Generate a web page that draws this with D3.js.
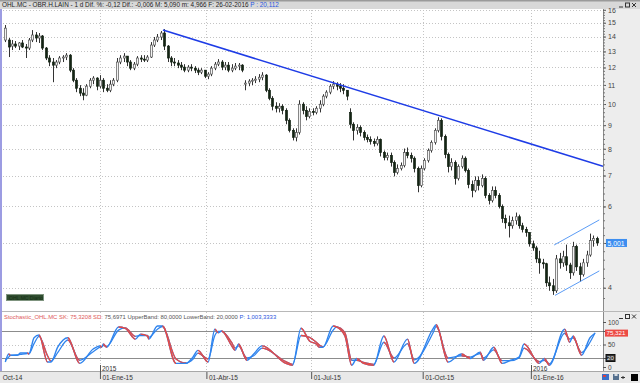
<!DOCTYPE html>
<html>
<head>
<meta charset="utf-8">
<script src="https://cdn.jsdelivr.net/npm/d3@7"></script>
<style>
  body { margin: 0; background: #fff; }
  svg { display: block; font-family: "Liberation Sans", Arial, sans-serif; }
</style>
</head>
<body>
<svg id="chart" width="640" height="383"></svg>
<script>
// trading-day index of the first candle, each candle covers 2 sessions
var firstDay = 8, dayStep = 2;

var opens = [13.76,13.76,13.35,13.49,13.35,13.56,13.29,13.22,13.76,14.11,
  13.90,14.04,13.22,12.58,12.33,12.14,12.33,12.58,12.64,12.76,
  11.84,11.26,10.82,10.56,10.45,10.93,11.26,11.38,10.93,11.26,
  10.82,10.71,11.04,11.26,12.33,12.58,12.70,12.33,11.96,12.20,
  12.58,12.51,12.45,12.64,13.42,13.76,13.97,14.25,13.35,12.58,
  12.33,12.27,12.14,12.02,11.84,12.02,11.96,11.84,11.72,11.84,
  11.49,11.61,11.96,12.20,12.33,12.02,12.14,11.84,11.96,12.08,
  12.14,11.04,11.10,11.21,11.26,11.32,11.43,11.55,10.71,10.29,
  9.89,9.79,9.89,9.69,9.22,8.77,8.47,8.68,9.99,9.69,
  9.40,9.64,9.59,9.79,9.99,10.40,10.61,10.93,11.04,10.93,
  10.82,10.71,9.59,9.04,8.77,8.90,8.68,8.47,8.38,8.30,
  8.21,8.38,7.85,7.66,7.74,7.47,7.11,7.25,7.36,7.85,
  7.74,7.63,7.25,6.66,7.25,7.55,7.93,8.26,8.77,9.22,
  8.51,7.78,7.32,7.47,6.90,7.32,7.63,7.18,6.69,6.50,
  6.83,6.66,6.90,6.34,6.18,6.50,6.34,6.00,5.65,5.53,
  5.45,5.59,5.70,5.45,5.35,5.27,4.98,4.88,4.62,4.53,
  4.51,4.10,4.04,3.94,4.62,4.53,4.67,4.48,4.31,4.91,
  4.44,4.27,4.53,4.71,5.06,5.11];
var highs = [14.83,13.90,13.76,13.69,13.62,13.76,13.49,13.90,14.46,14.32,
  14.25,14.11,13.29,12.76,12.58,12.45,12.70,12.76,12.89,12.83,
  11.96,11.38,10.99,10.82,11.04,11.38,11.49,11.43,11.55,11.38,
  11.04,11.26,11.38,12.58,12.76,12.89,12.70,12.45,12.33,12.70,
  12.76,12.76,12.76,13.62,13.97,14.18,14.39,14.53,13.42,12.70,
  12.58,12.45,12.33,12.20,12.14,12.20,12.08,11.96,11.96,11.84,
  11.72,12.08,12.33,12.51,12.45,12.33,12.33,12.20,12.27,12.27,
  12.20,11.26,11.32,11.38,11.49,11.61,11.72,11.61,10.82,10.40,
  10.09,10.04,9.99,9.79,9.31,8.86,8.86,10.19,10.09,9.89,
  9.79,9.79,9.89,10.19,10.50,10.71,11.04,11.21,11.15,11.10,
  11.04,10.71,9.79,9.13,9.04,8.99,8.77,8.59,8.51,8.42,
  8.51,8.42,7.93,7.85,7.85,7.55,7.40,7.47,8.01,8.05,
  7.85,7.70,7.32,7.36,7.63,8.01,8.34,8.86,9.36,9.31,
  8.59,7.85,7.63,7.55,7.40,7.74,7.70,7.25,6.83,6.97,
  6.97,7.04,6.97,6.41,6.63,6.63,6.41,6.06,5.76,5.73,
  5.70,5.82,5.76,5.53,5.42,5.27,5.06,4.93,4.81,4.62,
  4.53,4.23,4.18,4.71,4.76,4.81,4.96,4.53,5.03,4.96,
  4.53,4.62,4.81,5.24,5.19,5.16];
var lows = [13.62,12.64,13.09,13.22,13.09,13.22,12.58,13.09,13.62,13.62,
  13.56,13.09,12.45,12.08,11.15,11.96,12.20,12.33,12.45,11.72,
  11.15,10.61,10.40,10.19,10.40,10.82,11.04,10.71,10.82,10.61,
  10.61,10.61,10.93,11.15,12.20,12.33,12.08,11.84,11.84,12.08,
  12.33,12.33,12.33,12.58,13.29,13.62,13.76,13.09,12.33,12.08,
  12.08,11.96,11.84,11.72,11.72,11.78,11.67,11.55,11.61,11.38,
  11.32,11.49,11.84,12.08,11.84,11.84,11.72,11.72,11.84,11.84,
  11.72,10.71,10.93,10.99,11.10,11.15,11.26,10.61,10.19,9.69,
  9.59,9.59,9.50,9.04,8.68,8.34,8.30,8.59,9.50,9.22,
  9.31,9.45,9.50,9.59,9.89,10.29,10.50,10.77,10.71,10.61,
  10.50,10.19,8.86,8.34,8.59,8.51,8.34,8.26,8.17,8.09,
  8.13,7.70,7.55,7.55,7.32,6.97,7.04,7.18,7.29,7.63,
  7.47,7.11,6.44,6.60,7.18,7.47,7.85,8.17,8.68,8.34,
  7.63,7.11,7.18,6.69,6.83,7.25,7.11,6.57,6.28,6.44,
  6.50,6.60,6.25,6.06,6.12,6.25,5.94,5.53,5.37,5.14,
  5.37,5.48,5.37,5.27,5.16,4.91,4.81,4.53,4.29,4.40,
  4.02,3.94,3.86,3.90,4.40,4.44,4.35,4.18,4.25,4.35,
  4.12,4.23,4.44,4.67,4.91,4.93];
var closes = [14.60,13.29,13.49,13.35,13.56,13.29,13.22,13.76,14.11,13.90,
  14.04,13.22,12.58,12.33,12.14,12.33,12.58,12.64,12.76,11.84,
  11.26,10.82,10.56,10.45,10.93,11.26,11.38,10.93,11.26,10.82,
  10.71,11.04,11.26,12.33,12.58,12.70,12.33,11.96,12.20,12.58,
  12.51,12.45,12.64,13.42,13.76,13.97,14.25,13.35,12.58,12.33,
  12.27,12.14,12.02,11.84,12.02,11.96,11.84,11.72,11.84,11.49,
  11.61,11.96,12.20,12.33,12.02,12.14,11.84,11.96,12.08,12.14,
  11.84,11.10,11.21,11.26,11.32,11.43,11.55,10.71,10.29,9.89,
  9.79,9.89,9.69,9.22,8.77,8.47,8.68,9.99,9.69,9.40,
  9.64,9.59,9.79,9.99,10.40,10.61,10.93,11.04,10.93,10.82,
  10.71,10.40,9.04,8.77,8.90,8.68,8.47,8.38,8.30,8.21,
  8.38,7.85,7.66,7.74,7.47,7.11,7.25,7.36,7.85,7.74,
  7.63,7.25,6.66,7.25,7.55,7.93,8.26,8.77,9.22,8.51,
  7.78,7.32,7.47,6.90,7.32,7.63,7.18,6.69,6.50,6.83,
  6.66,6.90,6.34,6.18,6.50,6.34,6.00,5.65,5.53,5.45,
  5.59,5.70,5.45,5.35,5.27,4.98,4.88,4.62,4.53,4.51,
  4.10,4.04,3.94,4.62,4.53,4.67,4.48,4.31,4.91,4.44,
  4.27,4.53,4.71,5.06,5.11,5.00];

// stochastic (slow K / slow D)
var stochDays = [8,10,11,15,17,21,22,25,28,33,35,39,45,52,60,64,65,66,68,75,
  79,85,88,92,93,98,101,109,115,119,122,128,132,134,136,142,144,146,151,155,
  160,174,178,183,188,192,194,196,202,204,209,213,216,220,226,232,238,246,250,261,
  263,270,278,283,289,291,297,302,307,312,315,324,327,330,339,342,344,349,354,357];
var stochK = [11,29,26,26,31,31,29,65,71,11,11,44,65,8,40,47,44,51,44,89,
  86,62,73,69,62,91,91,8,8,22,37,11,84,76,80,47,37,51,15,29,
  47,8,4,86,58,51,44,44,91,89,69,4,19,8,4,69,11,62,8,84,
  94,11,29,19,33,15,44,8,15,22,51,8,19,4,84,55,69,26,65,75];
var stochD = [15,22,26,27,28,30,30,52,68,25,13,32,60,15,34,44,45,48,46,82,
  87,68,70,70,66,84,90,18,9,17,31,18,70,79,79,54,42,47,20,25,
  42,12,6,70,66,55,48,45,82,89,76,15,15,10,6,55,20,52,16,75,
  90,20,25,22,30,20,38,14,14,20,42,12,15,7,75,62,65,32,55,76];

// drawn lines (trading day, price)
var trendDays = [101.3, 361.7], trendPrices = [14.46, 7.33];
var chanUpDays = [332.8, 359.5], chanUpPrices = [4.95, 5.61];
var chanLoDays = [333.3, 359.5], chanLoPrices = [3.85, 4.35];

var monthDays = [0, 64, 127, 189, 255, 319];
var monthLabels = ["Oct-14","01-Ene-15","01-Abr-15","01-Jul-15","01-Oct-15","01-Ene-16"];
var yearDays = [64, 319];
var yearLabels = ["2015", "2016"];
var priceTicks = [4,5,6,7,8,9,10,11,12,13,14,15,16];
var stochTicks = [0, 20, 50, 80, 100];
var lastPrice = 5.001, lastK = 75.321;

var W = 640, H = 383;
var axisX = 603;
var priceTop = 9.8, priceBottom = 305;
var stochTop = 322, stochBottom = 367;

var x = d3.scaleLinear().domain([0, 361.7]).range([-8.2, axisX]);
var y = d3.scaleLog().domain([3.67, 16]).range([priceBottom, priceTop]);
var ys = d3.scaleLinear().domain([0, 100]).range([stochBottom, stochTop]);

var svg = d3.select("#chart");
var defs = svg.append("defs");
defs.append("clipPath").attr("id", "clipPrice").append("rect")
    .attr("x", 0).attr("y", 9).attr("width", axisX).attr("height", 302);

// fondos
svg.append("rect").attr("width", W).attr("height", H).attr("fill", "#fff");
svg.append("rect").attr("x", axisX).attr("y", 9).attr("width", W - axisX).attr("height", 362).attr("fill", "#ededed");
svg.append("rect").attr("x", 0).attr("y", 371).attr("width", W).attr("height", 12).attr("fill", "#e9e9e9");
svg.append("line").attr("x1", 0).attr("x2", W).attr("y1", 371.5).attr("y2", 371.5).attr("stroke", "#a8a8a8");
svg.append("line").attr("x1", 0).attr("x2", W).attr("y1", 311.5).attr("y2", 311.5).attr("stroke", "#b8b8b8");

// barra de titulo
svg.append("rect").attr("width", W).attr("height", 9).attr("fill", "#d8d8d8");
svg.append("rect").attr("width", W).attr("height", 1.5).attr("fill", "#9a9a9a");
var title = svg.append("text").attr("x", 2).attr("y", 7.3).attr("font-size", 6.4).attr("fill", "#222");
title.append("tspan").text("OHL.MC - OBR.H.LAIN -   1 d Dif. %: -0,12 Dif.: -0,006 M: 5,090 m: 4,966 F: 26-02-2016 ");
title.append("tspan").attr("fill", "#2a55e0").text("P : 20,112");

function winButtons(yTop) {
  var g = svg.append("g").attr("stroke", "#333").attr("fill", "none").attr("stroke-width", 1);
  g.append("line").attr("x1", 619).attr("x2", 623).attr("y1", yTop + 5.5).attr("y2", yTop + 5.5);
  g.append("rect").attr("x", 625.5).attr("y", yTop + 1.5).attr("width", 4).attr("height", 4);
  g.append("path").attr("d", "M632," + (yTop + 1.5) + "L636," + (yTop + 5.5) + "M636," + (yTop + 1.5) + "L632," + (yTop + 5.5));
}
winButtons(1.5);
winButtons(313);

// rejilla
var gridPrice = svg.append("g").attr("stroke", "#c4c4c4").attr("stroke-dasharray", "1,2");
gridPrice.selectAll("line").data(priceTicks).enter().append("line")
    .attr("x1", 0).attr("x2", axisX)
    .attr("y1", function(d){ return Math.round(y(d)) + 0.5; })
    .attr("y2", function(d){ return Math.round(y(d)) + 0.5; });
var gridV = svg.append("g").attr("stroke", "#c4c4c4").attr("stroke-dasharray", "1,2");
monthDays.slice(1).forEach(function(d){
  var xx = Math.round(x(d)) + 0.5;
  gridV.append("line").attr("x1", xx).attr("x2", xx).attr("y1", 10).attr("y2", 306);
  gridV.append("line").attr("x1", xx).attr("x2", xx).attr("y1", 312).attr("y2", 371);
});

// velas
var candles = closes.map(function(c, i){
  return { day: firstDay + i * dayStep, o: opens[i], h: highs[i], l: lows[i], c: c };
});
var cg = svg.append("g").attr("clip-path", "url(#clipPrice)");
cg.selectAll("line.wick").data(candles).enter().append("line")
    .attr("class", "wick")
    .attr("x1", function(d){ return Math.round(x(d.day)) + 0.5; })
    .attr("x2", function(d){ return Math.round(x(d.day)) + 0.5; })
    .attr("y1", function(d){ return y(d.h); })
    .attr("y2", function(d){ return y(d.l); })
    .attr("stroke", "#333").attr("stroke-width", 1);
cg.selectAll("rect.body").data(candles).enter().append("rect")
    .attr("class", "body")
    .attr("x", function(d){ return Math.round(x(d.day)) - 0.5; })
    .attr("width", 2)
    .attr("y", function(d){ return y(Math.max(d.o, d.c)); })
    .attr("height", function(d){ return Math.max(1, Math.abs(y(d.o) - y(d.c))); })
    .attr("fill", function(d){ return d.c >= d.o ? "#f2f2f2" : "#142414"; })
    .attr("stroke", function(d){ return d.c >= d.o ? "#555" : "#142414"; })
    .attr("stroke-width", 0.7);

// lineas de tendencia
function drawSeg(days, prices, color, width) {
  cg.append("line")
    .attr("x1", x(days[0])).attr("y1", y(prices[0]))
    .attr("x2", x(days[1])).attr("y2", y(prices[1]))
    .attr("stroke", color).attr("stroke-width", width);
}
drawSeg(trendDays, trendPrices, "#1e3ce6", 1.6);
drawSeg(chanUpDays, chanUpPrices, "#5b9cf6", 1);
drawSeg(chanLoDays, chanLoPrices, "#5b9cf6", 1);

// eje de precios (el 5 queda tapado por la etiqueta del ultimo precio)
var yAxis = d3.axisRight(y).tickValues(priceTicks)
    .tickFormat(function(d){ return d === 5 ? "" : d3.format("d")(d); })
    .tickSize(3).tickPadding(2);
var gy = svg.append("g").attr("transform", "translate(" + axisX + ",0)").call(yAxis);
gy.select(".domain").attr("stroke", "#8a8a8a").attr("d", "M0.5,9V311");
gy.selectAll(".tick line").attr("stroke", "#555");
gy.selectAll("text").attr("font-size", 7).attr("fill", "#444").attr("font-family", "Liberation Sans, Arial, sans-serif");
var yMinor = d3.axisRight(y).tickValues(d3.range(3.8, 16, 0.2)).tickFormat("").tickSize(2);
var gym = svg.append("g").attr("transform", "translate(" + axisX + ",0)").call(yMinor);
gym.select(".domain").remove();
gym.selectAll(".tick line").attr("stroke", "#777");

// etiqueta ultimo precio
var lp = svg.append("g").attr("transform", "translate(606," + y(lastPrice) + ")");
lp.append("rect").attr("x", 0).attr("y", -4).attr("width", 21).attr("height", 8).attr("fill", "#3d8ef0");
lp.append("text").attr("x", 1.5).attr("y", 2.6).attr("font-size", 6.8).attr("fill", "#fff").text("5,001");

// cuadro verde abajo a la izquierda
svg.append("rect").attr("x", 6.5).attr("y", 294.5).attr("width", 37).attr("height", 6).attr("fill", "#2f4d2f").attr("stroke", "#7f947f");
svg.append("text").attr("x", 9).attr("y", 299.5).attr("font-size", 5).attr("fill", "#183018").text("OHL.MC Diario");

// panel estocastico
var sg = svg.append("g");
[80, 20].forEach(function(v){
  sg.append("line").attr("x1", 0).attr("x2", axisX)
    .attr("y1", Math.round(ys(v)) + 0.5).attr("y2", Math.round(ys(v)) + 0.5)
    .attr("stroke", "#8c8c8c");
});
sg.append("line").attr("x1", 0).attr("x2", axisX)
    .attr("y1", Math.round(ys(50)) + 0.5).attr("y2", Math.round(ys(50)) + 0.5)
    .attr("stroke", "#c4c4c4").attr("stroke-dasharray", "1,2");

// linea suave: azul entera, y encima roja recortada a los tramos que bajan
function stochLine(vals, name, width) {
  var pts = vals.map(function(v, i){ return [x(stochDays[i]), ys(v)]; });
  var line = d3.line().curve(d3.curveMonotoneX);
  var clip = defs.append("clipPath").attr("id", "down" + name);
  for (var i = 1; i < vals.length; i++) {
    if (vals[i] < vals[i - 1]) {
      clip.append("rect").attr("x", pts[i - 1][0]).attr("y", 300)
        .attr("width", pts[i][0] - pts[i - 1][0]).attr("height", 80);
    }
  }
  var g = sg.append("g");
  g.append("path").attr("d", line(pts)).attr("fill", "none")
    .attr("stroke", "#2f84ee").attr("stroke-width", width).attr("stroke-linejoin", "round");
  g.append("path").attr("d", line(pts)).attr("fill", "none").attr("clip-path", "url(#down" + name + ")")
    .attr("stroke", "#ec4840").attr("stroke-width", width).attr("stroke-linejoin", "round");
}
stochLine(stochD, "D", 1.3);
stochLine(stochK, "K", 1.4);

var head = svg.append("text").attr("x", 4).attr("y", 318.5).attr("font-size", 5.9);
head.append("tspan").attr("fill", "#e05a5a").text("Stochastic_OHL.MC SK: 75,3208 SD: ");
head.append("tspan").attr("fill", "#555").text("75,6971 UpperBand: 80,0000 LowerBand: 20,0000 ");
head.append("tspan").attr("fill", "#2a55e0").text("P: 1,003,3333");

// eje del estocastico (80 y 20 van en sus cuadros)
var sAxis = d3.axisRight(ys).tickValues(stochTicks)
    .tickFormat(function(d){ return (d === 80 || d === 20) ? "" : d; })
    .tickSize(3).tickPadding(2);
var gs = svg.append("g").attr("transform", "translate(" + axisX + ",0)").call(sAxis);
gs.select(".domain").attr("stroke", "#8a8a8a").attr("d", "M0.5,312V371");
gs.selectAll(".tick line").attr("stroke", "#555");
gs.selectAll("text").attr("font-size", 6.5).attr("fill", "#444").attr("font-family", "Liberation Sans, Arial, sans-serif");

var kb = svg.append("g").attr("transform", "translate(605," + ys(lastK) + ")");
kb.append("rect").attr("x", 0).attr("y", -3.5).attr("width", 23).attr("height", 7).attr("fill", "#ec4a44");
kb.append("text").attr("x", 1.5).attr("y", 2.3).attr("font-size", 6.2).attr("fill", "#fff").text("75,321");
var lb = svg.append("g").attr("transform", "translate(606," + ys(20) + ")");
lb.append("rect").attr("x", 0).attr("y", -3.5).attr("width", 9).attr("height", 7).attr("fill", "#333").attr("stroke", "#111");
lb.append("text").attr("x", 1).attr("y", 2.3).attr("font-size", 6.2).attr("fill", "#eee").text("20");

// eje de fechas
var xAxis = d3.axisBottom(x).tickValues(monthDays)
    .tickFormat(function(d, i){ return monthLabels[i]; }).tickSize(7);
var gx = svg.append("g").attr("transform", "translate(0,372)").call(xAxis);
gx.select(".domain").remove();
gx.selectAll(".tick line").attr("stroke", "#555");
gx.selectAll("text").attr("text-anchor", "start")
    .attr("x", function(d){ return d === 0 ? 10.5 : 2; }).attr("y", 8).attr("dy", 0)
    .attr("font-size", 6.5).attr("fill", "#333").attr("font-family", "Liberation Sans, Arial, sans-serif");
yearDays.forEach(function(d, i){
  var xx = Math.round(x(d)) + 0.5;
  svg.append("line").attr("x1", xx).attr("x2", xx).attr("y1", 365).attr("y2", 372).attr("stroke", "#555");
  svg.append("text").attr("x", xx + 1.5).attr("y", 370.5).attr("font-size", 6.5).attr("fill", "#333").text(yearLabels[i]);
});

// iconos abajo a la derecha
var ic = svg.append("g");
ic.append("rect").attr("x", 602).attr("y", 374).attr("width", 7).attr("height", 6).attr("fill", "#3a6fc8");
ic.append("rect").attr("x", 603).attr("y", 375).attr("width", 3).attr("height", 2).attr("fill", "#d94040");
ic.append("rect").attr("x", 613).attr("y", 374).attr("width", 6).attr("height", 6).attr("fill", "#56708e");
ic.append("rect").attr("x", 614.5).attr("y", 374).attr("width", 3).attr("height", 2).attr("fill", "#d8dde4");
ic.append("path").attr("d", "M621,377.5H625M623,376V379").attr("stroke", "#333");
ic.append("rect").attr("x", 631).attr("y", 374).attr("width", 7).attr("height", 7).attr("fill", "#000");

// borde izquierdo
svg.append("line").attr("x1", 1).attr("x2", 1).attr("y1", 9).attr("y2", 371).attr("stroke", "#9c9ce2").attr("stroke-width", 2);
</script>
</body>
</html>
